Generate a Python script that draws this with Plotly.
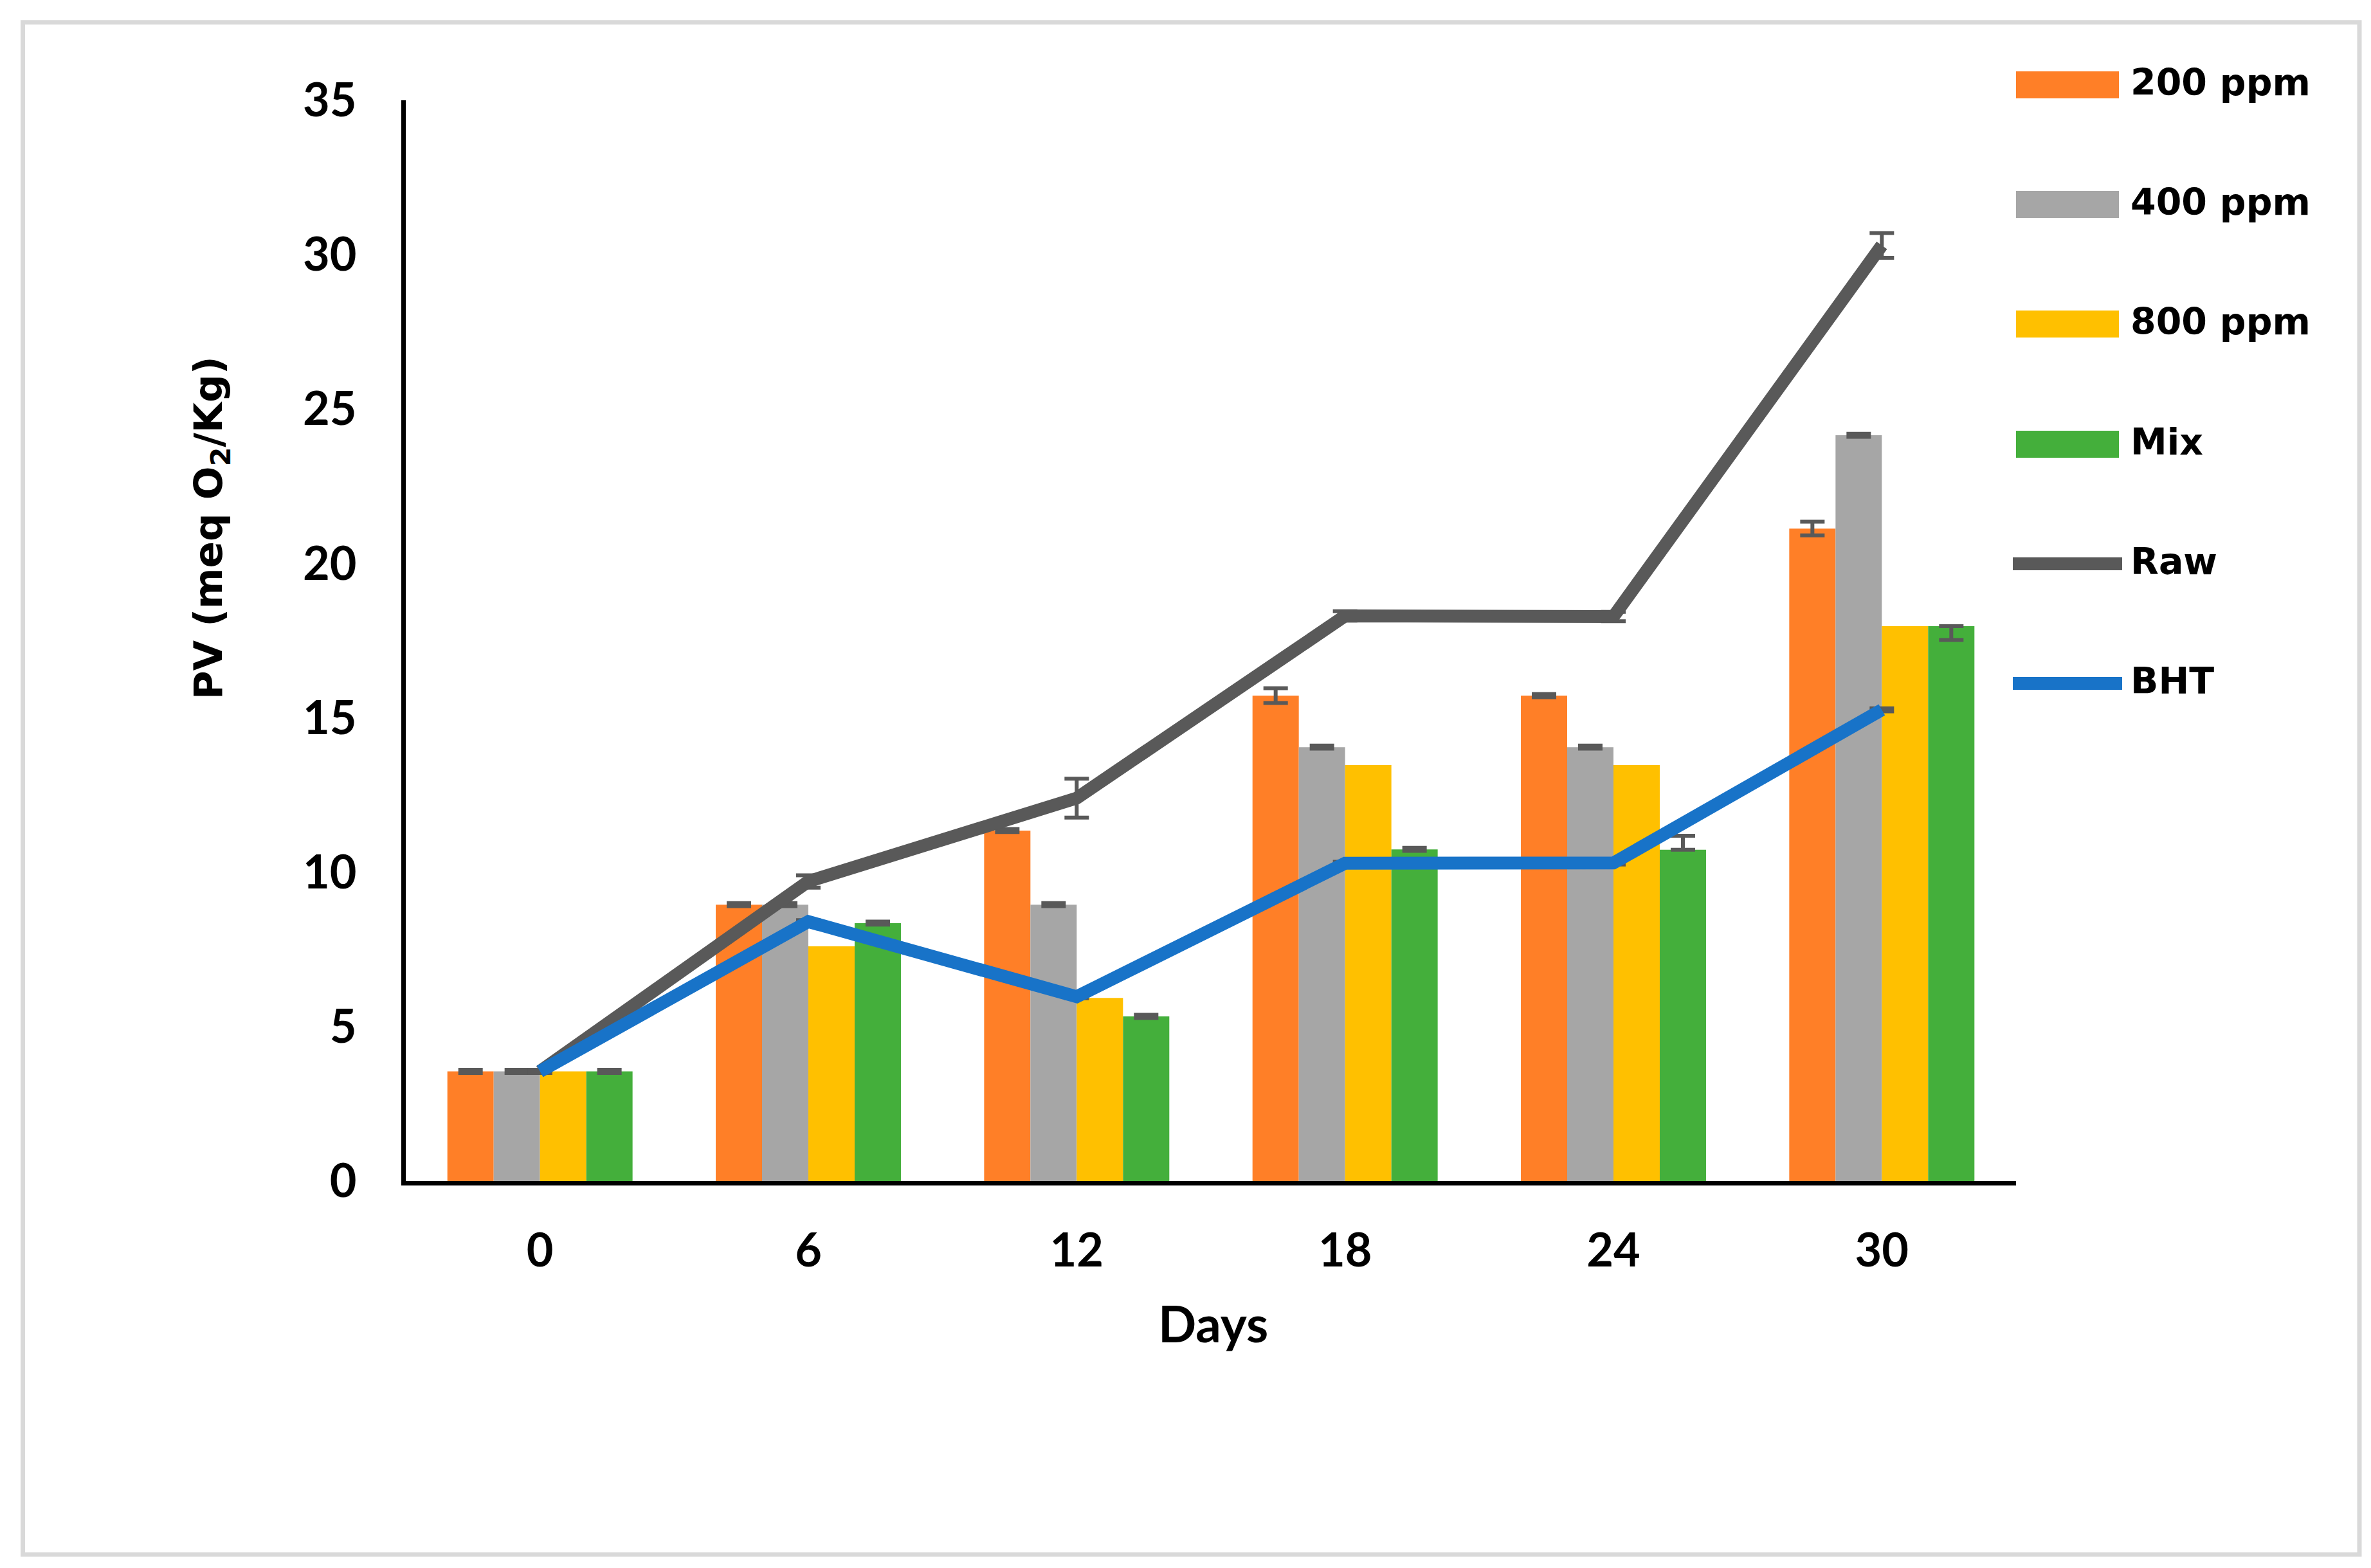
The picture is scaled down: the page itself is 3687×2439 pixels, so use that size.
import plotly.graph_objects as go

days = ['0', '6', '12', '18', '24', '30']

ppm200 = [3.55, 8.95, 11.35, 15.72, 15.72, 21.13]
ppm400 = [3.55, 8.95, 8.95, 14.05, 14.05, 24.15]
ppm800 = [3.55, 7.6, 5.93, 13.47, 13.47, 17.97]
mix = [3.55, 8.35, 5.33, 10.74, 10.73, 17.97]
raw = [3.55, 9.7, 12.4, 18.3, 18.28, 30.3]
bht = [3.55, 8.4, 5.97, 10.29, 10.3, 15.26]

err200 = [0.05, 0.05, 0.05, 0.24, 0.05, 0.22]
err400 = [0.05, 0.05, 0.05, 0.05, 0.05, 0.05]
mix_plus = [0.05, 0.05, 0.05, 0.05, 0.45, 0.0]
mix_minus = [0.05, 0.05, 0.05, 0.05, 0.0, 0.45]
err_raw = [0.05, 0.2, 0.63, 0.15, 0.15, 0.4]
err_bht = [0.05, 0.05, 0.05, 0.05, 0.05, 0.05]

bar_names = ['200 ppm', '400 ppm', '800 ppm', 'Mix']
bar_colors = ['#FF7F27', '#A6A6A6', '#FFC000', '#44AF3B']
line_names = ['Raw', 'BHT']
line_colors = ['#595959', '#1873C8']

W, H = 3687, 2439
L, R, T, B = 623, 3127, 148, 1829  # plot area in pixels
err_col = '#595959'


def px(x):
    return (x - L) / (R - L)


def py(y):
    return (B - y) / (B - T)


def err(arr, minus=None):
    d = dict(type='data', array=arr, color=err_col, thickness=6, width=19)
    if minus is not None:
        d['symmetric'] = False
        d['arrayminus'] = minus
    return d


fig = go.Figure()
bar_vals = [ppm200, ppm400, ppm800, mix]
bar_errs = [err(err200), err(err400), None, err(mix_plus, mix_minus)]
for name, col, vals, e in zip(bar_names, bar_colors, bar_vals, bar_errs):
    fig.add_trace(go.Bar(x=days, y=vals, name=name, marker_color=col,
                         marker_line_width=0, error_y=e))

for name, col, vals, e in zip(line_names, line_colors, [raw, bht], [err_raw, err_bht]):
    fig.add_trace(go.Scatter(x=days, y=vals, name=name, mode='lines',
                             line=dict(color=col, width=20), error_y=err(e)))

# legend drawn by hand (big symbols like the original)
shapes = [dict(type='rect', xref='paper', yref='paper',
               x0=px(27.5), x1=px(3661), y0=py(26.7), y1=py(2410),
               line=dict(color='#D9D9D9', width=7), layer='below')]
annotations = []
leg_y = [124, 310, 496, 683, 869, 1055]
names = bar_names + line_names
colors = bar_colors + line_colors
for i, (name, col) in enumerate(zip(names, colors)):
    yc = leg_y[i]
    if i < len(bar_names):
        shapes.append(dict(type='rect', xref='paper', yref='paper',
                           x0=px(3127), x1=px(3287), y0=py(yc - 21), y1=py(yc + 21),
                           fillcolor=col, line_width=0))
    else:
        shapes.append(dict(type='line', xref='paper', yref='paper',
                           x0=px(3122), x1=px(3292), y0=py(yc), y1=py(yc),
                           line=dict(color=col, width=20)))
    annotations.append(dict(text=name, xref='paper', yref='paper', x=px(3303), y=py(yc),
                            xanchor='left', yanchor='middle', showarrow=False, yshift=4,
                            font=dict(family='DejaVu Sans', size=57, color='black', weight='bold')))

annotations.append(dict(text='PV (meq O<sub>2</sub>/Kg)', xref='paper', yref='paper',
                        x=px(320), y=py(813), textangle=-90, showarrow=False,
                        xanchor='center', yanchor='middle',
                        font=dict(family='DejaVu Sans', size=61, color='black', weight='bold')))
annotations.append(dict(text='Days', xref='paper', yref='paper',
                        x=px(1878), y=py(2050), showarrow=False,
                        xanchor='center', yanchor='middle',
                        font=dict(family='Lato', size=78, color='black', weight='bold')))

fig.update_layout(
    width=W, height=H,
    margin=dict(l=L, r=W - R, t=T, b=H - B, autoexpand=False),
    paper_bgcolor='white', plot_bgcolor='white',
    barmode='group', bargap=0.31, bargroupgap=0,
    showlegend=False,
    shapes=shapes, annotations=annotations,
)
fig.update_xaxes(type='category', showline=True, linecolor='black', linewidth=7,
                 showgrid=False, ticks='', ticklabelstandoff=40,
                 tickfont=dict(family='Lato', size=72, color='black', weight='bold'))
fig.update_yaxes(range=[0, 35], dtick=5, showline=True, linecolor='black', linewidth=7,
                 showgrid=False, zeroline=False, ticks='', ticklabelstandoff=55,
                 tickfont=dict(family='Lato', size=72, color='black', weight='bold'))

fig.write_html('out.html')
